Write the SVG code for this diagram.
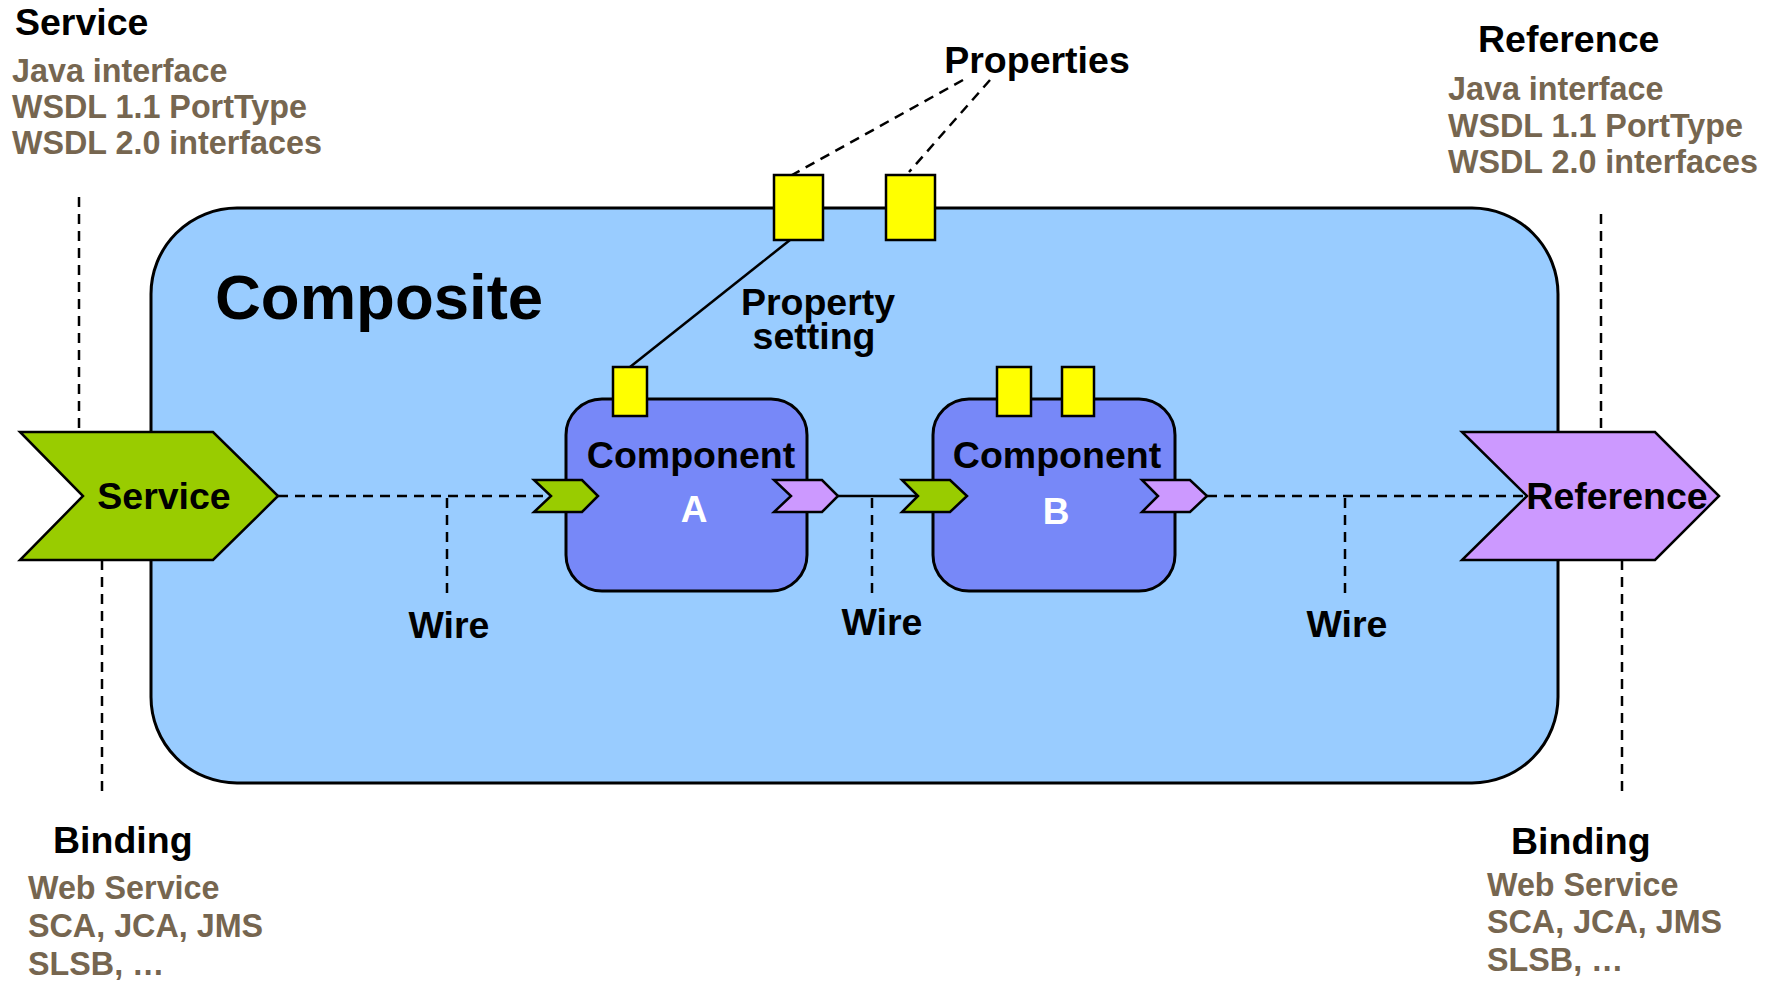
<svg xmlns="http://www.w3.org/2000/svg" width="1766" height="981" viewBox="0 0 1766 981">
  <style>
    text { font-family: "Liberation Sans", Arial, sans-serif; font-weight: bold; }
    .title { font-size: 37.5px; fill: #000; }
    .note { font-size: 32.3px; fill: #766650; }
    .big { font-size: 63.5px; fill: #000; }
    .white { font-size: 37px; fill: #fff; }
    .dash { stroke: #000; stroke-width: 2.5; stroke-dasharray: 10 7; fill: none; }
    .solid { stroke: #000; stroke-width: 2.5; fill: none; }
    .prop { fill: #ffff00; stroke: #000; stroke-width: 2.5; }
    .svc { fill: #99cc00; stroke: #000; stroke-width: 2.5; stroke-linejoin: miter; }
    .ref { fill: #cc99ff; stroke: #000; stroke-width: 2.5; stroke-linejoin: miter; }
    .comp { fill: #7788f8; stroke: #000; stroke-width: 3; }
  </style>

  <rect width="1766" height="981" fill="#fff"/>

  <!-- annotation leader lines (vertical) -->
  <g id="leaders">
    <line class="dash" x1="79" y1="197" x2="79" y2="432"/>
    <line class="dash" x1="102" y1="560" x2="102" y2="796"/>
    <line class="dash" x1="1601" y1="214" x2="1601" y2="432"/>
    <line class="dash" x1="1622" y1="560" x2="1622" y2="796"/>
  </g>

  <!-- composite container -->
  <g id="composite">
    <rect x="151" y="208" width="1407" height="575" rx="86" ry="86" fill="#99ccff" stroke="#000" stroke-width="3"/>
    <text class="big" x="215" y="319">Composite</text>
  </g>

  <!-- connectors -->
  <g id="connectors">
    <line class="dash" x1="278" y1="496" x2="551" y2="496"/>
    <line class="solid" x1="838" y1="496" x2="918" y2="496"/>
    <line class="dash" x1="1207" y1="496" x2="1527" y2="496"/>
    <line class="dash" x1="447" y1="498" x2="447" y2="594"/>
    <line class="dash" x1="872" y1="498" x2="872" y2="594"/>
    <line class="dash" x1="1345" y1="498" x2="1345" y2="594"/>
    <line class="dash" x1="963" y1="80" x2="792" y2="175"/>
    <line class="dash" x1="990" y1="80" x2="909" y2="172"/>
    <line class="solid" x1="790" y1="240" x2="630" y2="367"/>
  </g>

  <!-- composite properties -->
  <g id="composite-properties">
    <rect class="prop" x="774" y="175" width="49" height="65"/>
    <rect class="prop" x="886" y="175" width="49" height="65"/>
  </g>

  <!-- composite service -->
  <g id="service">
    <polygon class="svc" points="20,432 213,432 278,496 213,560 20,560 83,496"/>
    <text class="title" x="164" y="509" text-anchor="middle">Service</text>
  </g>

  <!-- composite reference -->
  <g id="reference">
    <polygon class="ref" points="1462,432 1655,432 1719,496 1655,560 1462,560 1527,496"/>
    <text class="title" x="1617" y="509" text-anchor="middle">Reference</text>
  </g>

  <!-- component A -->
  <g id="component-a">
    <rect class="comp" x="566" y="399" width="241" height="192" rx="36" ry="36"/>
    <rect class="prop" x="613" y="367" width="34" height="49"/>
    <text class="title" x="691" y="468" text-anchor="middle">Component</text>
    <text class="white" x="694" y="522" text-anchor="middle">A</text>
    <polygon class="svc" points="534,480 582,480 598,496 582,512 534,512 551,496"/>
    <polygon class="ref" points="774,480 822,480 838,496 822,512 774,512 791,496"/>
  </g>

  <!-- component B -->
  <g id="component-b">
    <rect class="comp" x="933" y="399" width="242" height="192" rx="36" ry="36"/>
    <rect class="prop" x="997" y="367" width="34" height="49"/>
    <rect class="prop" x="1062" y="367" width="32" height="49"/>
    <text class="title" x="1057" y="468" text-anchor="middle">Component</text>
    <text class="white" x="1056" y="524" text-anchor="middle">B</text>
    <polygon class="svc" points="902,480 950,480 967,496 950,512 902,512 918,496"/>
    <polygon class="ref" points="1142,480 1190,480 1207,496 1190,512 1142,512 1158,496"/>
  </g>

  <!-- labels -->
  <g id="labels">
    <text class="title" x="1037" y="73" text-anchor="middle">Properties</text>
    <text class="title" x="818" y="315" text-anchor="middle">Property</text>
    <text class="title" x="814" y="349" text-anchor="middle">setting</text>
    <text class="title" x="449" y="638" text-anchor="middle">Wire</text>
    <text class="title" x="882" y="635" text-anchor="middle">Wire</text>
    <text class="title" x="1347" y="637" text-anchor="middle">Wire</text>
  </g>

  <!-- service interface notes -->
  <g id="service-notes">
    <text class="title" x="15" y="35">Service</text>
    <text class="note" x="12" y="82">Java interface</text>
    <text class="note" x="12" y="118">WSDL 1.1 PortType</text>
    <text class="note" x="12" y="154">WSDL 2.0 interfaces</text>
  </g>

  <!-- reference interface notes -->
  <g id="reference-notes">
    <text class="title" x="1478" y="52">Reference</text>
    <text class="note" x="1448" y="100">Java interface</text>
    <text class="note" x="1448" y="137">WSDL 1.1 PortType</text>
    <text class="note" x="1448" y="173">WSDL 2.0 interfaces</text>
  </g>

  <!-- service binding notes -->
  <g id="service-binding">
    <text class="title" x="53" y="853">Binding</text>
    <text class="note" x="28" y="899">Web Service</text>
    <text class="note" x="28" y="937">SCA, JCA, JMS</text>
    <text class="note" x="28" y="975">SLSB, …</text>
  </g>

  <!-- reference binding notes -->
  <g id="reference-binding">
    <text class="title" x="1511" y="854">Binding</text>
    <text class="note" x="1487" y="896">Web Service</text>
    <text class="note" x="1487" y="933">SCA, JCA, JMS</text>
    <text class="note" x="1487" y="971">SLSB, …</text>
  </g>
</svg>
